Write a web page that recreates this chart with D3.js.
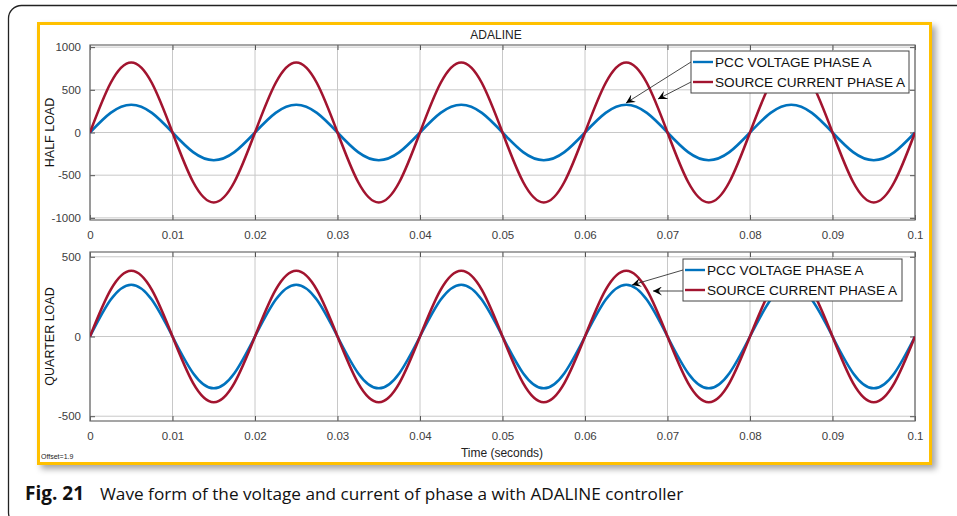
<!DOCTYPE html>
<html>
<head>
<meta charset="utf-8">
<script src="https://cdn.jsdelivr.net/npm/d3@7"></script>
<style>
  body { margin: 0; background: #fff; }
  svg { display: block; font-family: "Liberation Sans", Arial, sans-serif; }
</style>
</head>
<body>
<svg id="chart" width="957" height="516"></svg>
<script>
const timeSec = [0, 0.0025, 0.005, 0.0075, 0.01, 0.0125, 0.015, 0.0175,
  0.02, 0.0225, 0.025, 0.0275, 0.03, 0.0325, 0.035, 0.0375,
  0.04, 0.0425, 0.045, 0.0475, 0.05, 0.0525, 0.055, 0.0575,
  0.06, 0.0625, 0.065, 0.0675, 0.07, 0.0725, 0.075, 0.0775,
  0.08, 0.0825, 0.085, 0.0875, 0.09, 0.0925, 0.095, 0.0975, 0.1];

const halfVoltage = [0, 230, 325, 230, 0, -230, -325, -230,
  0, 230, 325, 230, 0, -230, -325, -230,
  0, 230, 325, 230, 0, -230, -325, -230,
  0, 230, 325, 230, 0, -230, -325, -230,
  0, 230, 325, 230, 0, -230, -325, -230, 0];
const halfCurrent = [0, 580, 820, 580, 0, -580, -820, -580,
  0, 580, 820, 580, 0, -580, -820, -580,
  0, 580, 820, 580, 0, -580, -820, -580,
  0, 580, 820, 580, 0, -580, -820, -580,
  0, 580, 820, 580, 0, -580, -820, -580, 0];
const quarterVoltage = [0, 230, 325, 230, 0, -230, -325, -230,
  0, 230, 325, 230, 0, -230, -325, -230,
  0, 230, 325, 230, 0, -230, -325, -230,
  0, 230, 325, 230, 0, -230, -325, -230,
  0, 230, 325, 230, 0, -230, -325, -230, 0];
const quarterCurrent = [0, 292, 412, 292, 0, -292, -412, -292,
  0, 292, 412, 292, 0, -292, -412, -292,
  0, 292, 412, 292, 0, -292, -412, -292,
  0, 292, 412, 292, 0, -292, -412, -292,
  0, 292, 412, 292, 0, -292, -412, -292, 0];

const xTicks = [0, 0.01, 0.02, 0.03, 0.04, 0.05, 0.06, 0.07, 0.08, 0.09, 0.1];
const halfTicks = [-1000, -500, 0, 500, 1000];
const quarterTicks = [-500, 0, 500];
const legendLabels = ["PCC VOLTAGE PHASE A", "SOURCE CURRENT PHASE A"];

const BLUE = "#0072bd";
const RED = "#a2142f";

const svg = d3.select("#chart");

// outer rounded frame of the figure
svg.append("rect")
  .attr("x", 8.5).attr("y", 5.5)
  .attr("width", 1000).attr("height", 520)
  .attr("rx", 13)
  .attr("fill", "none").attr("stroke", "#222").attr("stroke-width", 1.3);

const defs = svg.append("defs");
defs.append("filter").attr("id", "shadow")
  .attr("x", "-5%").attr("y", "-5%").attr("width", "115%").attr("height", "115%")
  .append("feDropShadow")
  .attr("dx", 4).attr("dy", 4).attr("stdDeviation", 3)
  .attr("flood-color", "#000").attr("flood-opacity", 0.35);

defs.append("marker").attr("id", "arrow")
  .attr("viewBox", "0 0 10 10").attr("refX", 10).attr("refY", 5)
  .attr("markerWidth", 9).attr("markerHeight", 9)
  .attr("markerUnits", "userSpaceOnUse")
  .attr("orient", "auto")
  .append("path").attr("d", "M0,0 L10,5 L0,10 L4,5 Z").attr("fill", "#000");

// yellow border with shadow
svg.append("rect")
  .attr("x", 38.5).attr("y", 23.5)
  .attr("width", 892).attr("height", 440)
  .attr("fill", "#fff").attr("stroke", "#ffc000").attr("stroke-width", 3)
  .attr("filter", "url(#shadow)");

const x = d3.scaleLinear().domain([0, 0.1]).range([90, 915]);

function panel(top, bottom, yMax, yTicks, voltage, current, yLabel, legendBox, arrows) {
  const y = d3.scaleLinear().domain([-yMax, yMax]).range([bottom, top]);
  const g = svg.append("g");

  // grid
  g.selectAll(".vg").data(xTicks).enter().append("line")
    .attr("x1", d => x(d)).attr("x2", d => x(d))
    .attr("y1", top).attr("y2", bottom)
    .attr("stroke", "#c8c8c8").attr("stroke-width", 1);
  g.selectAll(".hg").data(yTicks).enter().append("line")
    .attr("x1", 90).attr("x2", 915)
    .attr("y1", d => y(d)).attr("y2", d => y(d))
    .attr("stroke", "#c8c8c8").attr("stroke-width", 1);

  // axes with inward ticks
  const fmt = d => String(d);
  g.append("g").attr("transform", `translate(0,${bottom})`)
    .call(d3.axisBottom(x).tickValues(xTicks).tickSizeInner(-5).tickSizeOuter(0).tickPadding(11).tickFormat(fmt))
    .call(a => a.select(".domain").remove());
  g.append("g").attr("transform", `translate(0,${top})`)
    .call(d3.axisTop(x).tickValues(xTicks).tickSizeInner(-5).tickSizeOuter(0).tickFormat(""))
    .call(a => a.select(".domain").remove());
  g.append("g").attr("transform", "translate(90,0)")
    .call(d3.axisLeft(y).tickValues(yTicks).tickSizeInner(-5).tickSizeOuter(0).tickPadding(9).tickFormat(fmt))
    .call(a => a.select(".domain").remove());
  g.append("g").attr("transform", "translate(915,0)")
    .call(d3.axisRight(y).tickValues(yTicks).tickSizeInner(-5).tickSizeOuter(0).tickFormat(""))
    .call(a => a.select(".domain").remove());
  g.selectAll(".tick line").attr("stroke", "#555");
  g.selectAll(".tick text").attr("fill", "#404040")
    .style("font-size", "11.5px").style("font-family", "'Liberation Sans', Arial, sans-serif");

  g.append("rect")
    .attr("x", 90).attr("y", top).attr("width", 825).attr("height", bottom - top)
    .attr("fill", "none").attr("stroke", "#6a6a6a").attr("stroke-width", 1.2);

  // waveforms
  const clipId = "clip" + top;
  defs.append("clipPath").attr("id", clipId).append("rect")
    .attr("x", 90).attr("y", top).attr("width", 825).attr("height", bottom - top);
  const line = vals => d3.line()
    .x((d, i) => x(timeSec[i]))
    .y(d => y(d))
    .curve(d3.curveNatural)(vals);
  g.append("path").attr("d", line(voltage)).attr("clip-path", `url(#${clipId})`)
    .attr("fill", "none").attr("stroke", BLUE).attr("stroke-width", 2.6);
  g.append("path").attr("d", line(current)).attr("clip-path", `url(#${clipId})`)
    .attr("fill", "none").attr("stroke", RED).attr("stroke-width", 2.6);

  // y label
  svg.append("text")
    .attr("transform", `translate(54,${(top + bottom) / 2}) rotate(-90)`)
    .attr("text-anchor", "middle")
    .style("font-size", "12.5px").attr("fill", "#111")
    .text(yLabel);

  // legend
  const [lx, ly, lw, lh] = legendBox;
  svg.append("rect").attr("x", lx).attr("y", ly).attr("width", lw).attr("height", lh)
    .attr("fill", "#fff").attr("stroke", "#444").attr("stroke-width", 1);
  [BLUE, RED].forEach((c, i) => {
    const cy = ly + 11 + i * 20;
    svg.append("line").attr("x1", lx + 2).attr("x2", lx + 22)
      .attr("y1", cy).attr("y2", cy).attr("stroke", c).attr("stroke-width", 2.4);
    svg.append("text").attr("x", lx + 24).attr("y", cy + 5)
      .style("font-size", "13.6px").attr("fill", "#111")
      .text(legendLabels[i]);
  });

  // annotation arrows from legend to the traces
  arrows.forEach(a => {
    svg.append("line")
      .attr("x1", a[0]).attr("y1", a[1]).attr("x2", a[2]).attr("y2", a[3])
      .attr("stroke", "#333").attr("stroke-width", 0.9)
      .attr("marker-end", "url(#arrow)");
  });
}

panel(45, 220, 1025, halfTicks, halfVoltage, halfCurrent, "HALF LOAD",
  [691, 51, 218, 42], [[691, 62, 626, 103], [691, 82, 658, 99]]);
panel(252, 421, 530, quarterTicks, quarterVoltage, quarterCurrent, "QUARTER LOAD",
  [683, 259, 219, 42], [[683, 270, 632, 285], [683, 291, 653, 291]]);

// title and x label
svg.append("text").attr("x", 496).attr("y", 39).attr("text-anchor", "middle")
  .style("font-size", "12px").attr("fill", "#222").text("ADALINE");
svg.append("text").attr("x", 502).attr("y", 457).attr("text-anchor", "middle")
  .style("font-size", "12px").attr("fill", "#222").text("Time (seconds)");
svg.append("text").attr("x", 41).attr("y", 459)
  .style("font-size", "7px").attr("fill", "#222").text("Offset=1.9");

// caption
const cap = svg.append("text").attr("x", 25).attr("y", 500)
  .style("font-family", "'Open Sans', 'Noto Sans', sans-serif")
  .style("font-size", "17.2px").attr("fill", "#111");
cap.append("tspan").style("font-weight", "bold").style("font-size", "19px").text("Fig. 21");
cap.append("tspan").attr("x", 100).text("Wave form of the voltage and current of phase a with ADALINE controller");
</script>
</body>
</html>
